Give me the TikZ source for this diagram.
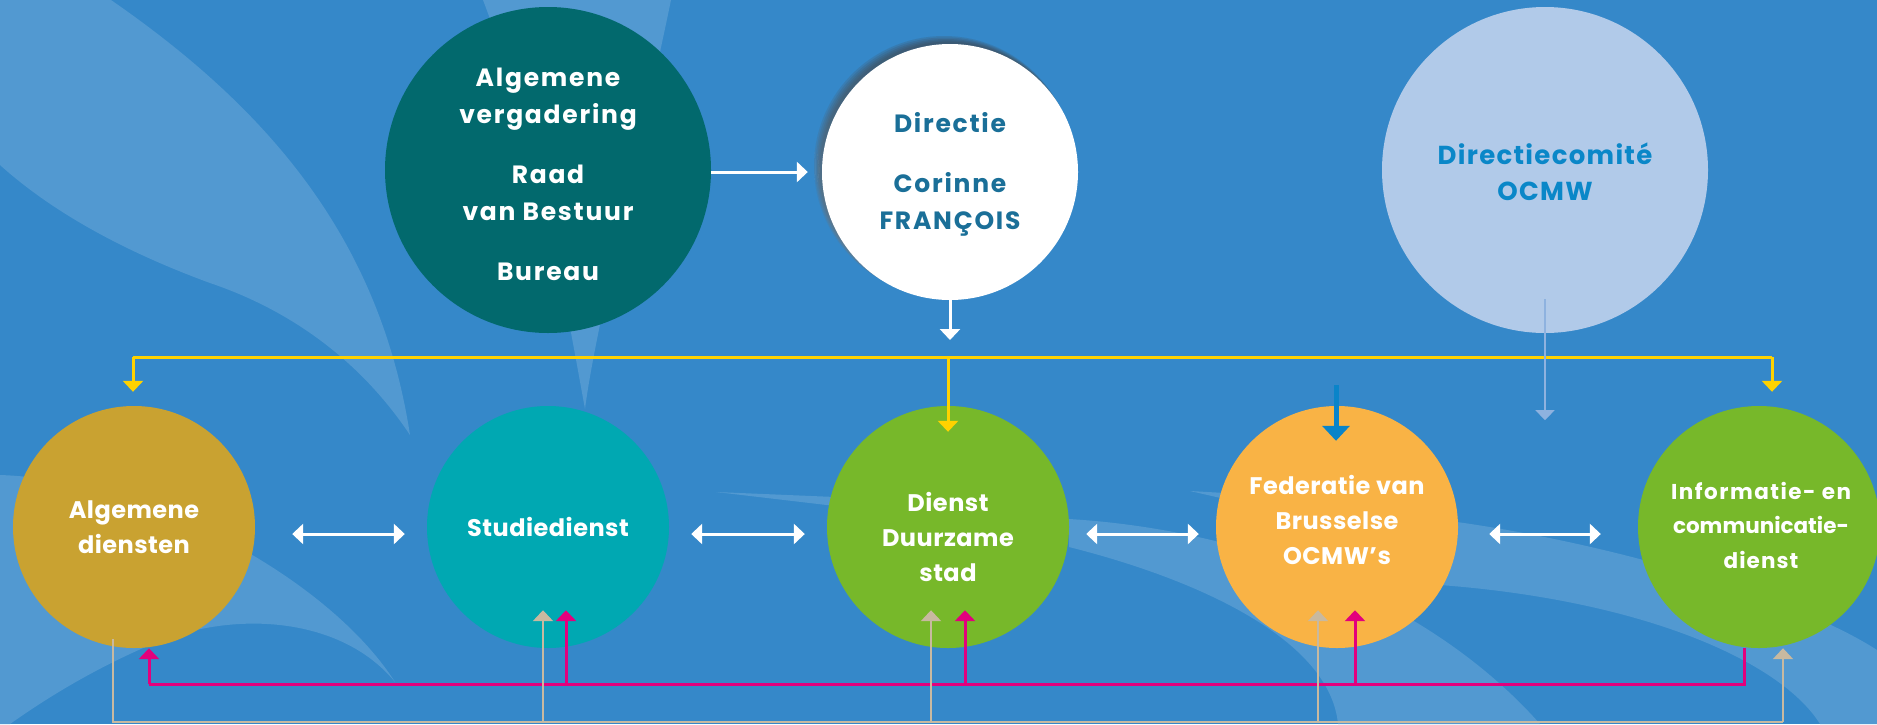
\documentclass[tikz,border=0pt]{standalone}
\usepackage{fontspec}
\setmainfont{Poppins}
\usetikzlibrary{arrows.meta}
\definecolor{bg}{HTML}{3588C9}
\definecolor{swoosh}{HTML}{5299D1}
\definecolor{tealdark}{HTML}{02696D}
\definecolor{dirtext}{HTML}{1A6F98}
\definecolor{dcfill}{HTML}{B1CAE9}
\definecolor{dctext}{HTML}{0A87C8}
\definecolor{ochre}{HTML}{C9A231}
\definecolor{cyanc}{HTML}{00A8B2}
\definecolor{greenc}{HTML}{77B82A}
\definecolor{orangec}{HTML}{F9B345}
\definecolor{yel}{HTML}{FFD200}
\definecolor{mag}{HTML}{E3007D}
\definecolor{beige}{HTML}{C8B9A0}
\definecolor{blueah}{HTML}{0A84C9}
\definecolor{lblue}{HTML}{8EB2DF}
\definecolor{shade}{HTML}{7A7F86}
\tikzset{
  circ/.style={circle, inner sep=0pt, draw=none},
  toptext/.style={text=white, align=center, font=\fontsize{25}{37}\selectfont\bfseries\addfontfeature{LetterSpace=7}},
  lowtext/.style={text=white, align=center, font=\fontsize{24}{35}\selectfont\bfseries\addfontfeature{LetterSpace=2}},
  tip/.style={-{Triangle[width=20pt,length=11pt]}},
  warrow/.style={tip, draw=white, line width=3pt},
  wdouble/.style={{Triangle[width=20pt,length=11pt]}-{Triangle[width=20pt,length=11pt]}, draw=white, line width=3pt},
  yline/.style={draw=yel, line width=3pt},
  yarrow/.style={tip, draw=yel, line width=3pt},
  mline/.style={draw=mag, line width=3pt},
  marrow/.style={tip, draw=mag, line width=3pt},
  bline/.style={draw=beige, line width=2.5pt},
  barrow/.style={tip, draw=beige, line width=2.5pt},
}
\begin{document}
\begin{tikzpicture}[x=1pt,y=-1pt]
\useasboundingbox (0,0) rectangle (1877,724);
\fill[bg] (0,0) rectangle (1877,724);
% background swooshes
\fill[swoosh] (0,0) -- (111,0) .. controls (270,110) and (380,240) .. (410,435)
  .. controls (360,360) and (290,310) .. (210,283) .. controls (120,250) and (50,210) .. (0,165) -- cycle;
\fill[swoosh] (483,0) .. controls (540,150) and (565,300) .. (585,409) .. controls (595,330) and (640,150) .. (671,0) -- cycle;
\fill[swoosh] (0,475) .. controls (150,480) and (330,580) .. (395,682)
  .. controls (340,615) and (230,610) .. (150,645) .. controls (80,675) and (30,710) .. (10,724) -- (0,724) -- cycle;
\fill[swoosh] (716,492) -- (835,497) -- (835,506) -- cycle;
\fill[swoosh] (1190,491) -- (1225,493) -- (1225,499) -- cycle;
\fill[swoosh] (1069,519) .. controls (1250,530) and (1430,600) .. (1540,724) -- (1338,724)
  .. controls (1330,640) and (1200,580) .. (1069,547) -- cycle;
\fill[swoosh] (1457,522) .. controls (1620,545) and (1800,600) .. (1877,650) -- (1877,724) -- (1820,724)
  .. controls (1780,660) and (1640,600) .. (1440,585) -- cycle;

% top circles
\node[circ, fill=tealdark, minimum size=326pt] (ag) at (548,170) {};
\foreach \d/\r in {6/130, 5/129.5, 4/129, 3/128.6, 2/128.3} {
  \fill[shade, opacity=0.09] (950-\d,172-\d) circle (\r pt);
}
\node[circ, fill=white, minimum size=256pt] (dir) at (950,172) {};
\node[circ, fill=dcfill, minimum size=326pt] (dc) at (1545,170) {};

% bottom circles
\node[circ, fill=ochre, minimum size=242pt] (ad) at (134,527) {};
\node[circ, fill=cyanc, minimum size=242pt] (sd) at (548,527) {};
\node[circ, fill=greenc, minimum size=242pt] (dd) at (948,527) {};
\node[circ, fill=orangec, minimum size=242pt] (fb) at (1337,527) {};
\node[circ, fill=greenc, minimum size=242pt] (ic) at (1759,527) {};

% texts
\node[toptext] (agt) at (548,174) {Algemene\\vergadering\\[23pt]Raad\\van Bestuur\\[23pt]Bureau};
\node[toptext, text=dirtext] (dirt) at (950,174) {Directie\\[23pt]Corinne\\FRANÇOIS};
\node[toptext, text=dctext, font=\fontsize{26}{36}\selectfont\bfseries\addfontfeature{LetterSpace=5}] (dct) at (1545,172) {Directiecomité\\OCMW};
\node[lowtext] (adt) at (134,527) {Algemene\\diensten};
\node[lowtext] (sdt) at (548,527) {Studiedienst};
\node[lowtext] (ddt) at (948,537) {Dienst\\Duurzame\\stad};
\node[lowtext] (fbt) at (1337,520) {Federatie van\\Brusselse\\OCMW’s};
\node[lowtext, font=\fontsize{21.5}{34.5}\selectfont\bfseries] (ict) at (1761,525) {{\addfontfeature{LetterSpace=7}Informatie- en}\\communicatie-\\{\addfontfeature{LetterSpace=5}dienst}};

% coordinates
\coordinate (ybus) at (948,357);
\coordinate (yL) at (133,357);
\coordinate (yR) at (1772,357);
\coordinate (bstart) at (1336,385);
\coordinate (mbus) at (948,684);
\coordinate (bbus) at (948,722);

% white arrows
\draw[warrow, shorten >=14pt] (ag.east |- dir) -- (dir.west);
\draw[warrow, shorten >=17pt] (dir.south) -- (dir.south |- ybus);
\draw[wdouble, shorten <=37pt, shorten >=22pt] ([yshift=-7pt]ad.east) -- ([yshift=-7pt]sd.west);
\draw[wdouble, shorten <=22pt, shorten >=22pt] ([yshift=-7pt]sd.east) -- ([yshift=-7pt]dd.west);
\draw[wdouble, shorten <=17pt, shorten >=17pt] ([yshift=-7pt]dd.east) -- ([yshift=-7pt]fb.west);
\draw[wdouble, shorten <=31pt, shorten >=37pt] ([yshift=-7pt]fb.east) -- ([yshift=-7pt]ic.west);

% yellow
\draw[yline] (yL) -- (yR);
\draw[yarrow] (yL) -- ([yshift=14pt]yL |- ad.north);
\draw[yarrow] (ybus) -- ([yshift=-26pt]ybus |- dd.north);
\draw[yarrow] (yR) -- ([yshift=14pt]yR |- ic.north);

% blue arrows
\draw[-{Triangle[width=27pt,length=15pt]}, draw=blueah, line width=5pt] (bstart) -- ([yshift=-35pt]bstart |- fb.north);
\draw[-{Triangle[width=19pt,length=10pt]}, draw=lblue, line width=1.5pt] ([yshift=34pt]dc.south) -- ([yshift=-87pt]dc.south);

% magenta
\draw[mline] ([xshift=-15pt]ic.south) -- ([xshift=-15pt]ic.south |- mbus) -- ([xshift=15pt]ad.south |- mbus);
\draw[marrow] ([xshift=15pt]ad.south |- mbus) -- ([xshift=15pt]ad.south);
\draw[marrow] ([xshift=18pt]sd.south |- mbus) -- ([xshift=18pt,yshift=38pt]sd.south);
\draw[marrow] ([xshift=17pt]dd.south |- mbus) -- ([xshift=17pt,yshift=38pt]dd.south);
\draw[marrow] ([xshift=18pt]fb.south |- mbus) -- ([xshift=18pt,yshift=38pt]fb.south);

% beige
\draw[bline] ([xshift=-21pt,yshift=9pt]ad.south) -- ([xshift=-21pt]ad.south |- bbus) -- ([xshift=24pt]ic.south |- bbus);
\draw[barrow] ([xshift=24pt]ic.south |- bbus) -- ([xshift=24pt]ic.south);
\draw[barrow] ([xshift=-5pt]sd.south |- bbus) -- ([xshift=-5pt,yshift=38pt]sd.south);
\draw[barrow] ([xshift=-17pt]dd.south |- bbus) -- ([xshift=-17pt,yshift=38pt]dd.south);
\draw[barrow] ([xshift=-19pt]fb.south |- bbus) -- ([xshift=-19pt,yshift=38pt]fb.south);
\end{tikzpicture}
\end{document}
